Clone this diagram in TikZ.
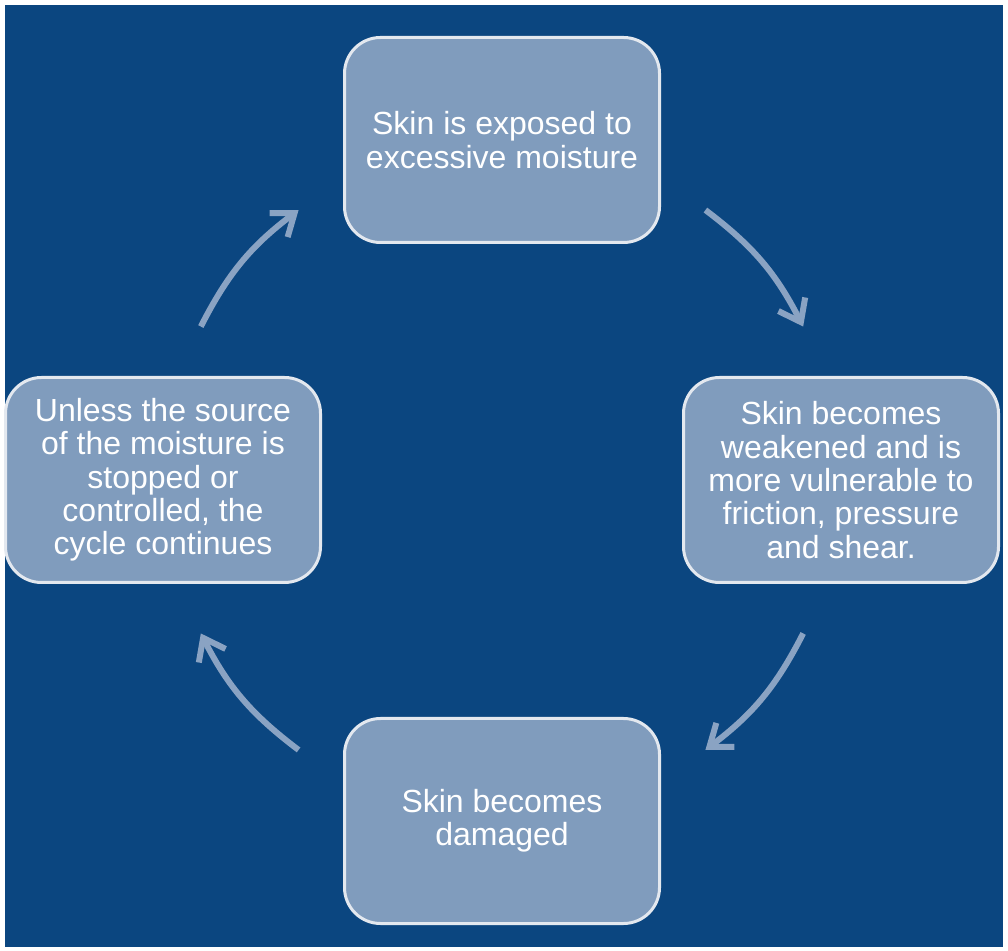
\documentclass[tikz,border=0pt]{standalone}
\usepackage{fontspec}
\setmainfont{Liberation Sans}
\usetikzlibrary{positioning,arrows.meta}
\definecolor{navy}{HTML}{0B4680}
\definecolor{boxfill}{HTML}{809CBD}
\definecolor{boxline}{HTML}{E3E8EF}
\definecolor{arrowcol}{HTML}{8AA3C3}

\begin{document}
\begin{tikzpicture}
\tikzstyle{stage}=[rectangle, rounded corners=36pt, minimum width=315pt, minimum height=205pt, fill=boxfill, draw=boxline, line width=3pt, text=white, align=center, font=\fontsize{32}{33.3}\selectfont]
\tikzstyle{connect}=[-{Straight Barb[length=20pt,width=30pt]}, line width=6pt, draw=arrowcol]
\useasboundingbox (0,0) rectangle (1008pt,950pt);
\fill[white] (0,0) rectangle (1008pt,950pt);
\fill[navy] (5pt,3pt) rectangle (1003pt,945pt);
\coordinate (centre) at (502pt,470pt);
\node[stage] (moist) [above=236pt of centre] {Skin is exposed to\\excessive moisture};
\node[stage] (weak) [right=180pt of centre] {Skin becomes\\weakened and is\\more vulnerable to\\friction, pressure\\and shear.};
\node[stage] (damage) [below=237pt of centre] {Skin becomes\\damaged};
\node[stage] (cycle) [left=180pt of centre] {Unless the source\\of the moisture is\\stopped or\\controlled, the\\cycle continues};
  % arrow ends on a circle round the centre
\coordinate (tr-a) at ([shift={(53:338pt)}]centre);
\coordinate (tr-b) at ([shift={(27:338pt)}]centre);
\coordinate (br-a) at ([shift={(-27:338pt)}]centre);
\coordinate (br-b) at ([shift={(-53:338pt)}]centre);
\coordinate (bl-a) at ([shift={(-127:338pt)}]centre);
\coordinate (bl-b) at ([shift={(-153:338pt)}]centre);
\coordinate (tl-a) at ([shift={(153:338pt)}]centre);
\coordinate (tl-b) at ([shift={(127:338pt)}]centre);
\path (tr-a) edge [connect, bend left=13] (tr-b)
      (br-a) edge [connect, bend left=13] (br-b)
      (bl-a) edge [connect, bend left=13] (bl-b)
      (tl-a) edge [connect, bend left=13] (tl-b);
\end{tikzpicture}
\end{document}
